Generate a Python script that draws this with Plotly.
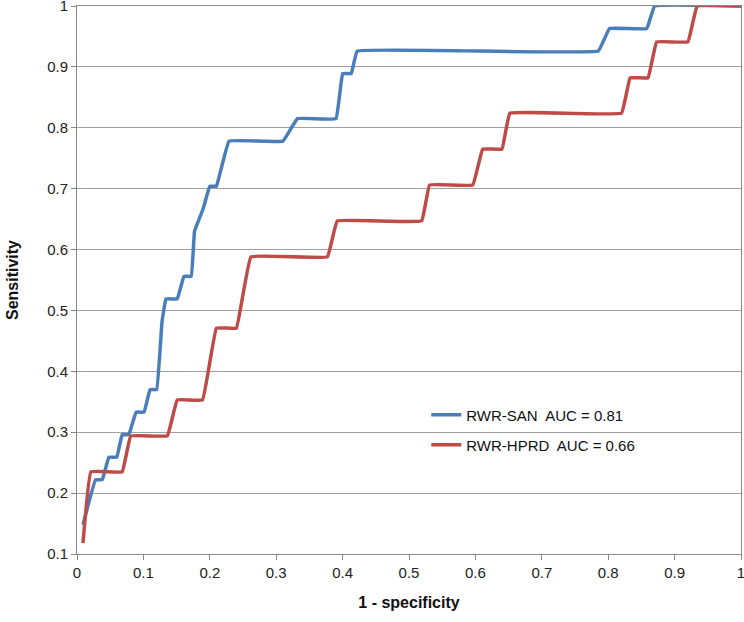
import plotly.graph_objects as go

# ROC points (1 - specificity, sensitivity)
san_fpr = [0.009, 0.028, 0.038, 0.048, 0.060, 0.068, 0.078, 0.089, 0.101, 0.110, 0.120,
           0.128, 0.134, 0.151, 0.161, 0.172, 0.177, 0.190, 0.200, 0.210, 0.229, 0.310,
           0.332, 0.390, 0.400, 0.413, 0.422, 0.785, 0.802, 0.858, 0.870, 1.000]
san_tpr = [0.148, 0.222, 0.222, 0.259, 0.259, 0.296, 0.296, 0.333, 0.333, 0.370, 0.370,
           0.481, 0.519, 0.519, 0.556, 0.556, 0.630, 0.667, 0.704, 0.704, 0.778, 0.778,
           0.815, 0.815, 0.889, 0.889, 0.926, 0.926, 0.963, 0.963, 1.000, 1.000]

hprd_fpr = [0.009, 0.021, 0.068, 0.081, 0.136, 0.151, 0.189, 0.210, 0.240, 0.262, 0.377,
            0.392, 0.519, 0.531, 0.596, 0.611, 0.640, 0.652, 0.820, 0.833, 0.860, 0.873,
            0.920, 0.934, 1.000]
hprd_tpr = [0.118, 0.235, 0.235, 0.294, 0.294, 0.353, 0.353, 0.471, 0.471, 0.588, 0.588,
            0.647, 0.647, 0.706, 0.706, 0.765, 0.765, 0.824, 0.824, 0.882, 0.882, 0.941,
            0.941, 1.000, 1.000]

x_ticks = [0, 0.1, 0.2, 0.3, 0.4, 0.5, 0.6, 0.7, 0.8, 0.9, 1]
x_labels = ["0", "0.1", "0.2", "0.3", "0.4", "0.5", "0.6", "0.7", "0.8", "0.9", "1"]
y_ticks = [0.1, 0.2, 0.3, 0.4, 0.5, 0.6, 0.7, 0.8, 0.9, 1]
y_labels = ["0.1", "0.2", "0.3", "0.4", "0.5", "0.6", "0.7", "0.8", "0.9", "1"]

BLUE = "#4A7EBB"
RED = "#BE4B48"
FONT = "Liberation Sans, Arial, sans-serif"

fig = go.Figure()
fig.add_trace(go.Scatter(x=san_fpr, y=san_tpr, mode="lines", name="RWR-SAN  AUC = 0.81",
                         line=dict(color=BLUE, width=3.5, shape="spline", smoothing=0.2),
                         legend="legend", showlegend=True))
fig.add_trace(go.Scatter(x=hprd_fpr, y=hprd_tpr, mode="lines", name="RWR-HPRD  AUC = 0.66",
                         line=dict(color=RED, width=3.5, shape="spline", smoothing=0.2),
                         legend="legend2", showlegend=True))

leg = dict(xanchor="left", yanchor="middle", bgcolor="rgba(0,0,0,0)", visible=True,
           font=dict(family=FONT, size=15, color="#111"))
fig.update_layout(
    width=744, height=622,
    margin=dict(l=77, r=3, t=6, b=68, autoexpand=False),
    paper_bgcolor="white", plot_bgcolor="white",
    showlegend=True,
    font=dict(family=FONT, color="#222"),
    legend=dict(x=0.526, y=0.2536, **leg),
    legend2=dict(x=0.526, y=0.199, **leg),
    xaxis=dict(range=[0, 1], tickvals=x_ticks, ticktext=x_labels, showgrid=False,
               ticks="outside", ticklen=5, tickcolor="#888", showline=True,
               linecolor="#888", linewidth=1, mirror=True, zeroline=False,
               ticklabeloverflow="allow", automargin=False,
               tickfont=dict(size=15, color="#222"),
               title=dict(text="<b>1 - specificity</b>", font=dict(size=16, color="#111"),
                          standoff=16)),
    yaxis=dict(range=[0.1, 1], tickvals=y_ticks, ticktext=y_labels, showgrid=True,
               gridcolor="#A0A0A0", gridwidth=1, ticks="outside", ticklen=5,
               tickcolor="#888", showline=True, linecolor="#888", linewidth=1,
               mirror=True, zeroline=False, ticklabeloverflow="allow", automargin=False,
               tickfont=dict(size=15, color="#222"),
               title=dict(text="<b>Sensitivity</b>", font=dict(size=16, color="#111"),
                          standoff=24)),
)

fig.write_html("out.html", config={"displayModeBar": False},
               post_script="document.body.style.margin='0';")
